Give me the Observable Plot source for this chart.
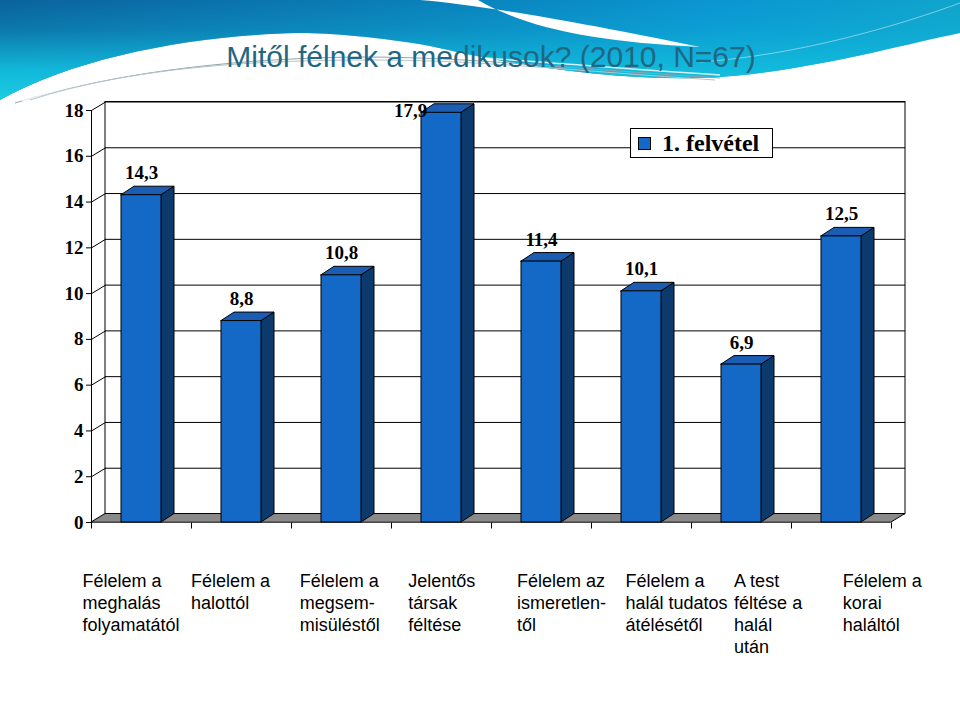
<!DOCTYPE html>
<html>
<head>
<meta charset="utf-8">
<script src="https://cdn.jsdelivr.net/npm/d3@7"></script>
<script src="https://cdn.jsdelivr.net/npm/@observablehq/plot@0.6"></script>
<style>
  html, body { margin: 0; padding: 0; background: #ffffff; }
  #wrap { position: relative; width: 960px; height: 716px; overflow: hidden; background: #ffffff; }
  #header { position: absolute; left: 0; top: 0; }
  #chart { position: absolute; left: 0; top: 0; }
  #legend {
    position: absolute; left: 630px; top: 128px; width: 141px; height: 28px;
    border: 1px solid #000; background: #fff;
    font-family: "Liberation Serif", "Times New Roman", serif; font-weight: bold;
    font-size: 24px; line-height: 28px; white-space: nowrap;
  }
  #legend .sw {
    display: inline-block; width: 11px; height: 11px; background: #1469c7;
    border: 1px solid #000; margin: 0 11px 0 7px; vertical-align: 1px;
  }
</style>
</head>
<body>
<div id="wrap">
  <svg id="header" width="960" height="110" xmlns="http://www.w3.org/2000/svg">
    <defs>
      <linearGradient id="gBase" x1="0" y1="0" x2="960" y2="0" gradientUnits="userSpaceOnUse">
        <stop offset="0" stop-color="#0a629c"/>
        <stop offset="0.45" stop-color="#0a80ba"/>
        <stop offset="0.75" stop-color="#0a96d2"/>
        <stop offset="1" stop-color="#10a4cc"/>
      </linearGradient>
      <linearGradient id="gCyan" x1="0" y1="0" x2="0" y2="100" gradientUnits="userSpaceOnUse">
        <stop offset="0" stop-color="#12bcdc" stop-opacity="0"/>
        <stop offset="0.3" stop-color="#12bcdc" stop-opacity="0.25"/>
        <stop offset="0.7" stop-color="#12bcdc" stop-opacity="0.95"/>
        <stop offset="1" stop-color="#1ccde4" stop-opacity="1"/>
      </linearGradient>
    </defs>
    <path d="M0,0 H960 V33 C900,45 800,74 700,78 C600,80 500,62 430,46 C380,37 330,33 300,33 C200,35 80,55 0,100 Z" fill="url(#gBase)"/>
    <path d="M0,0 H960 V33 C900,45 800,74 700,78 C600,80 500,62 430,46 C380,37 330,33 300,33 C200,35 80,55 0,100 Z" fill="url(#gCyan)"/>
    <path d="M420,0 C480,5 580,22 700,47 C600,42 530,30 478,0 Z" fill="#ffffff"/>
    <path d="M700,62 C800,55 900,25 960,3" fill="none" stroke="#ffffff" stroke-opacity="0.45" stroke-width="1"/>
    <path d="M15,103 C120,70 250,58 360,57 C470,57 560,68 720,78" fill="none" stroke="#8fa6b0" stroke-width="1"/>
    <path d="M22,101 C128,67 258,55 368,54 C478,54 570,66 720,75" fill="none" stroke="#ffffff" stroke-width="1.5" stroke-opacity="0.8"/>
    <path d="M30,100 C135,66 262,60 372,60 C482,60 575,71 715,80" fill="none" stroke="#b8c4c8" stroke-width="1"/>
    <text x="491" y="67" text-anchor="middle" font-family="'Liberation Sans', Arial, sans-serif" font-size="30" fill="#1f6783">Mitől félnek a medikusok? (2010, N=67)</text>
  </svg>
  <div id="chart"></div>
  <div id="legend"><span class="sw"></span><span id="legendText"></span></div>
</div>
<script>
// ---- data ----
const categories = [
  "Félelem a\nmeghalás\nfolyamatától",
  "Félelem a\nhalottól",
  "Félelem a\nmegsem-\nmisüléstől",
  "Jelentős\ntársak\nféltése",
  "Félelem az\nismeretlen-\ntől",
  "Félelem a\nhalál tudatos\nátélésétől",
  "A test\nféltése a\nhalál\nután",
  "Félelem a\nkorai\nhaláltól"
];
const values = [14.3, 8.8, 10.8, 17.9, 11.4, 10.1, 6.9, 12.5];
const yTicks = [0, 2, 4, 6, 8, 10, 12, 14, 16, 18];
const seriesName = "1. felvétel";

// ---- layout / style constants ----
const W = 960, H = 716;
const ML = 91, MR = 69, MT = 110, MB = 194;
const N = categories.length;
const YMAX = 18;
const pxX = (W - ML - MR) / N;          // px per x unit
const pxY = (H - MT - MB) / YMAX;       // px per y unit
const DX = 14 / pxX, DY = 8.5 / pxY;    // wall depth
const BDX = 13 / pxX, BDY = 8.5 / pxY;  // bar depth
const BAR_PAD = 0.3;
const TICK = 6 / pxY;
const LABEL_GAP = 22 / pxY;
const LABEL_START = -0.09, LABEL_STEP = 1.086; // category text boxes are spread a bit wider than the bars
const FRONT = "#1469c7", TOP = "#1b5db2", SIDE = "#0c3a6c", FLOOR = "#8a8a8a";
const SERIF = "'Liberation Serif', 'Times New Roman', serif";
const SANS = "'Liberation Sans', Arial, sans-serif";
const CAT_FONT = 18;

document.getElementById("legendText").textContent = seriesName;

const fmt = v => v.toFixed(1).replace(".", ",");
const data = values.map((v, i) => ({i, cat: categories[i], v, x1: i + BAR_PAD, x2: i + 1 - BAR_PAD}));
const sides = data.flatMap(d => [
  {id: d.i, x: d.x2, y1: 0, y2: d.v},
  {id: d.i, x: d.x2 + BDX, y1: BDY, y2: d.v + BDY}
]);
const tops = data.flatMap(d => [
  {id: d.i, y: d.v, x1: d.x1, x2: d.x2},
  {id: d.i, y: d.v + BDY, x1: d.x1 + BDX, x2: d.x2 + BDX}
]);

const chart = Plot.plot({
  width: W, height: H,
  marginLeft: ML, marginRight: MR, marginTop: MT, marginBottom: MB,
  style: {background: "transparent", color: "black", fontFamily: SERIF, fontSize: "19px", fontWeight: "bold", overflow: "visible"},
  x: {domain: [0, N], axis: null},
  y: {domain: [0, YMAX], ticks: yTicks, tickSize: 5, tickPadding: 3, label: null},
  marks: [
    // back wall
    Plot.rect([0], {x1: DX, x2: N + DX, y1: DY, y2: YMAX + DY, fill: "white", stroke: "black", strokeWidth: 1}),
    // gridlines on back wall
    Plot.ruleY(yTicks, {y: d => d + DY, x1: DX, x2: N + DX, stroke: "black", strokeWidth: 1}),
    // side wall gridlines
    Plot.link(yTicks, {x1: 0, x2: DX, y1: d => d, y2: d => d + DY, stroke: "black", strokeWidth: 1}),
    // front axis line
    Plot.ruleX([0], {y1: 0, y2: YMAX, stroke: "black", strokeWidth: 1}),
    // floor
    Plot.areaX([{y: 0, x1: 0, x2: N}, {y: DY, x1: DX, x2: N + DX}], {y: "y", x1: "x1", x2: "x2", fill: FLOOR, stroke: "black", strokeWidth: 1}),
    // x ticks
    Plot.link(d3.range(N + 1), {x1: d => d, x2: d => d, y1: 0, y2: -TICK, stroke: "black", strokeWidth: 1}),
    // bars: side, top, front
    Plot.areaY(sides, {x: "x", y1: "y1", y2: "y2", z: "id", fill: SIDE, stroke: "black", strokeWidth: 1}),
    Plot.areaX(tops, {y: "y", x1: "x1", x2: "x2", z: "id", fill: TOP, stroke: "black", strokeWidth: 1}),
    Plot.rect(data, {x1: "x1", x2: "x2", y1: 0, y2: "v", fill: FRONT, stroke: "black", strokeWidth: 1}),
    // value labels
    Plot.text(data.filter(d => d.v + LABEL_GAP <= YMAX), {
      x: d => d.i + 0.5, y: d => d.v + LABEL_GAP, text: d => fmt(d.v),
      fontFamily: SERIF, fontWeight: "bold", fontSize: 19, fill: "black"
    }),
    Plot.text(data.filter(d => d.v + LABEL_GAP > YMAX), {
      x: d => d.i + 0.5, y: YMAX, dx: -31, text: d => fmt(d.v),
      fontFamily: SERIF, fontWeight: "bold", fontSize: 19, fill: "black"
    }),
    // category labels
    Plot.text(data, {
      x: d => LABEL_START + LABEL_STEP * d.i, y: 0, text: "cat",
      dy: 49, textAnchor: "start", lineAnchor: "top", lineHeight: 1.22,
      fontFamily: SANS, fontWeight: "normal", fontSize: CAT_FONT, fill: "black"
    })
  ]
});
document.getElementById("chart").appendChild(chart);
</script>
</body>
</html>
